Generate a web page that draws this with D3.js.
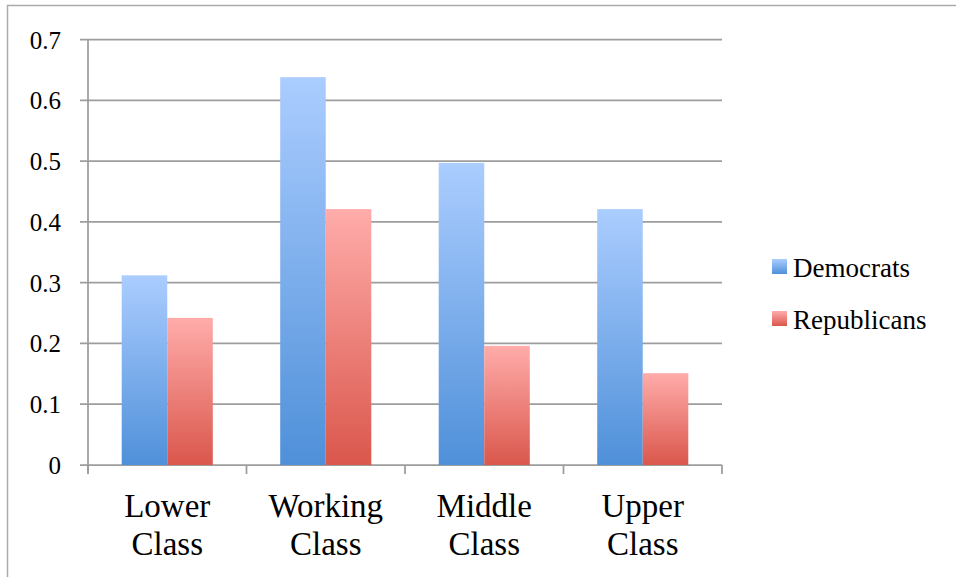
<!DOCTYPE html>
<html>
<head>
<meta charset="utf-8">
<script src="https://cdn.jsdelivr.net/npm/d3@7"></script>
<style>
  body { margin: 0; background: #fff; }
  svg { display: block; }
  text { font-family: "Liberation Serif", "Times New Roman", serif; fill: #000; }
</style>
</head>
<body>
<svg></svg>
<script>
// Data
const categories = [["Lower", "Class"], ["Working", "Class"], ["Middle", "Class"], ["Upper", "Class"]];
const seriesNames = ["Democrats", "Republicans"];
const democrats = [0.312, 0.638, 0.497, 0.421];
const republicans = [0.242, 0.421, 0.196, 0.151];
const yTickValues = [0, 0.1, 0.2, 0.3, 0.4, 0.5, 0.6, 0.7];
const yTickLabels = ["0", "0.1", "0.2", "0.3", "0.4", "0.5", "0.6", "0.7"];

// Dimensions
const width = 956, height = 577;
const margin = { top: 39.5, left: 88, right: 234, bottom: 112 };
const innerWidth = width - margin.left - margin.right;
const innerHeight = height - margin.top - margin.bottom;
const serif = "'Liberation Serif', 'Times New Roman', serif";

const svg = d3.select("svg").attr("width", width).attr("height", height);

// Gradients
const defs = svg.append("defs");
const gradColors = { Democrats: ["#abcdff", "#4f90d9"], Republicans: ["#ffacaa", "#da574c"] };
seriesNames.forEach((s, i) => {
    const lg = defs.append("linearGradient").attr("id", "grad" + i)
        .attr("x1", 0).attr("y1", 0).attr("x2", 0).attr("y2", 1);
    lg.append("stop").attr("offset", "0%").attr("stop-color", gradColors[s][0]);
    lg.append("stop").attr("offset", "100%").attr("stop-color", gradColors[s][1]);
});

// Outer border (only left and top edges are in view)
svg.append("path")
    .attr("d", `M7.5,${height}V5.5H${width}`)
    .attr("fill", "none").attr("stroke", "#ababab").attr("stroke-width", 1.5);

const g = svg.append("g").attr("transform", `translate(${margin.left},${margin.top})`);

// Scales
const x0 = d3.scaleBand().domain(d3.range(categories.length)).range([0, innerWidth]).padding(0);
const x1 = d3.scaleBand().domain(seriesNames).range([0, x0.bandwidth()]).paddingInner(0).paddingOuter(0.74);
const y = d3.scaleLinear().domain([0, 0.7]).range([innerHeight, 0]);

// Gridlines
g.append("g").selectAll("line")
    .data(yTickValues)
    .enter().append("line")
    .attr("x1", -8).attr("x2", innerWidth)
    .attr("y1", d => y(d)).attr("y2", d => y(d))
    .attr("stroke", "#9d9d9d").attr("stroke-width", 1.75);

// Y axis labels
const yAxis = g.append("g")
    .call(d3.axisLeft(y).tickValues(yTickValues).tickSize(0).tickPadding(27)
        .tickFormat((d, i) => yTickLabels[i]))
    .attr("font-family", serif)
    .attr("font-size", 25);
yAxis.select(".domain").remove();
yAxis.selectAll("text")
    .style("font-family", serif)
    .style("font-size", "25px")
    .attr("dy", "0.34em");

// Y axis line
g.append("line")
    .attr("x1", 0).attr("x2", 0).attr("y1", 0).attr("y2", innerHeight + 9)
    .attr("stroke", "#9d9d9d").attr("stroke-width", 1.75);

// X tick marks at category boundaries
const boundaries = d3.range(categories.length + 1).map(i => i * x0.step());
g.append("g").selectAll("line")
    .data(boundaries)
    .enter().append("line")
    .attr("x1", d => d).attr("x2", d => d)
    .attr("y1", innerHeight).attr("y2", innerHeight + 9)
    .attr("stroke", "#9d9d9d").attr("stroke-width", 1.75);

// Bars
const seriesData = [democrats, republicans];
seriesNames.forEach((s, si) => {
    g.append("g").selectAll("rect")
        .data(seriesData[si])
        .enter().append("rect")
        .attr("x", (d, i) => x0(i) + x1(s))
        .attr("y", d => y(d))
        .attr("width", x1.bandwidth())
        .attr("height", d => innerHeight - y(d))
        .attr("fill", `url(#grad${si})`);
});

// Category labels
const catLabels = g.append("g").selectAll("text")
    .data(categories)
    .enter().append("text")
    .attr("text-anchor", "middle")
    .attr("x", (d, i) => x0(i) + x0.bandwidth() / 2)
    .attr("y", innerHeight + 52)
    .style("font-family", serif)
    .style("font-size", "33px");
catLabels.each(function (d) {
    const t = d3.select(this);
    d.forEach((line, li) => {
        t.append("tspan")
            .attr("x", t.attr("x"))
            .attr("dy", li === 0 ? 0 : 38)
            .text(line);
    });
});

// Legend
const legend = svg.append("g").attr("transform", "translate(772,259)");
seriesNames.forEach((s, i) => {
    const row = legend.append("g").attr("transform", `translate(0,${i * 52})`);
    row.append("rect").attr("width", 15).attr("height", 15).attr("fill", `url(#grad${i})`);
    row.append("text").attr("x", 21).attr("y", 18)
        .style("font-family", serif).style("font-size", "27px").text(s);
});
</script>
</body>
</html>
